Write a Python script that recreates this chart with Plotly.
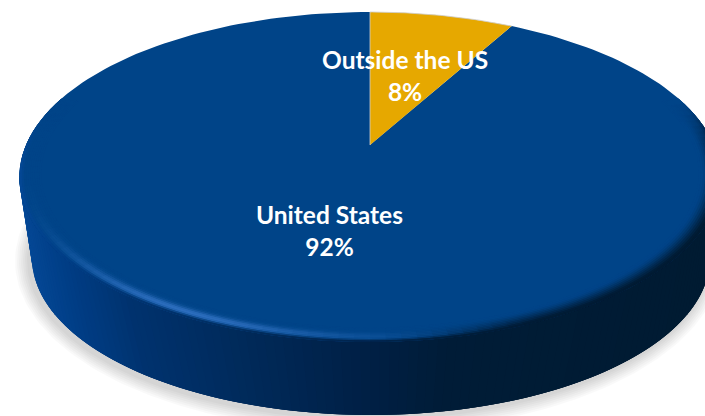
"""Share of revenue by region, drawn as a tilted 3-D style pie."""

import numpy as np
import plotly.graph_objects as go

# ---- Data ---------------------------------------------------------------

REGIONS = ["Outside the US", "United States"]
SHARES = [8, 92]
SLICE_COLORS = ["#E6A800", "#004488"]

# ---- Projection of the pie disc onto the page (pixels) -------------------

W, H = 705, 416
CX, CY = 370, 145   # pie centre on the page
A, B, K = 344, 158.8, 0.194   # horizontal scale, vertical scale, perspective
BOT_CX, BOT_CY, BOT_RX, BOT_RY = 371, 258, 339, 157   # lower edge of the disc

TOP = np.array([0, 68, 136])
RIM_X = [19, 60, 130, 240, 360, 450, 705]
RIM_R = [5, 0, 0, 0, 0, 0, 0]
RIM_G = [72, 62, 50, 42, 32, 28, 27]
RIM_B = [150, 135, 110, 90, 70, 55, 50]


def project(frac, s=1.0):
    """Fraction of the circle (clockwise from 12 o'clock) to page x, y."""
    phi = 2 * np.pi * np.asarray(frac)
    u, v = np.sin(phi) * s, np.cos(phi) * s
    den = 1 + K * v
    return CX + A * u / den, CY - B * v / den


def rim_color(x):
    return np.array([np.interp(x, RIM_X, c) for c in (RIM_R, RIM_G, RIM_B)])


def rgb(c):
    return "rgb({},{},{})".format(*[int(round(float(v))) for v in c])


def smooth(a, b, x):
    t = np.clip((x - a) / (b - a), 0, 1)
    return t * t * (3 - 2 * t)


def poly(fig, xs, ys, color, line=None, width=0.0):
    fig.add_trace(go.Scatter(
        x=list(xs), y=list(ys), mode="lines", fill="toself", fillcolor=color,
        line=dict(color=line or color, width=width), hoverinfo="skip",
    ))


fig = go.Figure()

# ---- Soft shadow under the disc -------------------------------------------

t = np.linspace(0, 2 * np.pi, 240)
for grow in range(14, 0, -2):
    poly(fig, BOT_CX - 3 + (BOT_RX + grow) * np.cos(t),
         BOT_CY + 3 + (BOT_RY + grow) * np.sin(t),
         "rgba(0,0,0,0.022)", line="rgba(0,0,0,0)")

# ---- Side wall -------------------------------------------------------------

F0, F1 = 0.28, 0.72
fr = np.linspace(F0, F1, 121)
tx, ty = project(fr)
ang = (fr - F0) / (F1 - F0) * np.pi
bx, by = BOT_CX + BOT_RX * np.cos(ang), BOT_CY + BOT_RY * np.sin(ang)
# painted from the right, each quad running under the next one so no seams show
for i in range(len(fr) - 1):
    end = min(i + 3, len(fr) - 1)
    color = rgb(rim_color((tx[i] + tx[i + 1]) / 2))
    poly(fig, [tx[i], tx[end], bx[end], bx[i], tx[i]],
         [ty[i], ty[end], by[end], by[i], ty[i]], color)

# ---- Slices ------------------------------------------------------------------

edges = np.cumsum([0] + SHARES) / sum(SHARES)
for i in [1, 0]:
    arc = np.linspace(edges[i], edges[i + 1], 200)
    ax, ay = project(arc)
    poly(fig, [CX, *ax, CX], [CY, *ay, CY], SLICE_COLORS[i])

# ---- Bevel round the front edge ----------------------------------------------

rings = np.linspace(0.94, 1.0, 11)
segs = np.linspace(0.20, 0.80, 101)
for j in range(len(rings) - 1):
    s0, s1 = rings[j], min(rings[j + 1] + 0.006, 1.0)
    sm = (rings[j] + rings[j + 1]) / 2
    for i in range(len(segs) - 1):
        f = (segs[i] + segs[i + 1]) / 2
        end = min(i + 2, len(segs) - 1)
        x0, y0 = project(segs[i], s0)
        x1, y1 = project(segs[end], s0)
        x2, y2 = project(segs[end], s1)
        x3, y3 = project(segs[i], s1)
        mx = (x0 + x2) / 2
        dark = (1 - smooth(0.43, 0.50, f)) * smooth(0.20, 0.28, f) * smooth(0.945, 1.0, sm)
        glow = np.exp(-((f - 0.575) / 0.065) ** 2) * np.exp(-((sm - 0.978) / 0.014) ** 2)
        wall = smooth(0.985, 1.0, sm) * smooth(0.20, 0.28, f) * (1 - smooth(0.72, 0.80, f))
        col = TOP * (1 - dark) + rim_color(mx) * dark
        col = col * (1 - glow) + np.array([45, 110, 190]) * glow
        col = col * (1 - wall) + rim_color(mx) * wall
        poly(fig, [x0, x1, x2, x3, x0], [y0, y1, y2, y3, y0], rgb(col))

# pale edge on the small slice
arc = np.linspace(edges[0], edges[1], 60)
ax, ay = project(arc)
fig.add_trace(go.Scatter(
    x=[CX, *ax], y=[CY, *ay], mode="lines",
    line=dict(color="rgba(205,205,205,0.8)", width=1), hoverinfo="skip",
))

# ---- Labels --------------------------------------------------------------------

label_x = [405, 329]
label_y = [75, 230]
for name, share, lx, ly in zip(REGIONS, SHARES, label_x, label_y):
    fig.add_annotation(
        x=lx, y=ly, text=f"{name}<br>{share}%", showarrow=False,
        font=dict(family="Lato", size=24.5, color="white", weight="bold"),
    )

fig.update_layout(
    width=W, height=H, showlegend=False, paper_bgcolor="white", plot_bgcolor="white",
    margin=dict(l=0, r=0, t=0, b=0),
    xaxis=dict(range=[0, W], visible=False, fixedrange=True),
    yaxis=dict(range=[H, 0], visible=False, fixedrange=True),
)

fig.write_html("out.html", config=dict(displayModeBar=False),
               post_script="document.body.style.margin='0';document.body.style.overflow='hidden';")
